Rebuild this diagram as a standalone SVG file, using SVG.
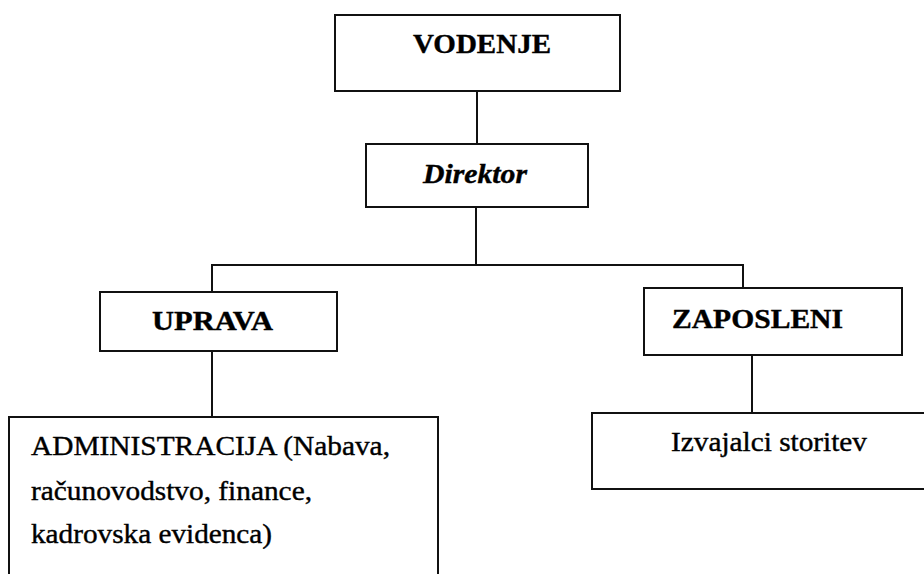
<svg xmlns="http://www.w3.org/2000/svg" width="924" height="574" viewBox="0 0 924 574">
<style>
.box{fill:#fff;stroke:#111;stroke-width:2}
.ln{fill:none;stroke:#111;stroke-width:2}
.t{font-family:"Liberation Serif","Times New Roman",serif;font-size:28px;fill:#000;stroke:#000;stroke-width:0.4}
.b{font-weight:bold}
.i{font-style:italic}
</style>
<rect width="924" height="574" fill="#fff"/>
<g id="connectors">
<line class="ln" x1="477" y1="91" x2="477" y2="144"/>
<line class="ln" x1="476" y1="207" x2="476" y2="265"/>
<polyline class="ln" points="212,292 212,265 743,265 743,288"/>
<line class="ln" x1="212" y1="351" x2="212" y2="417"/>
<line class="ln" x1="752" y1="355" x2="752" y2="413"/>
</g>
<g id="vodenje">
<rect class="box" x="335" y="15" width="285" height="76"/>
<text class="t b" x="413" y="53" textLength="138" lengthAdjust="spacingAndGlyphs">VODENJE</text>
</g>
<g id="direktor">
<rect class="box" x="366" y="144" width="222" height="63"/>
<text class="t b i" x="423" y="183" textLength="104" lengthAdjust="spacingAndGlyphs">Direktor</text>
</g>
<g id="uprava">
<rect class="box" x="100" y="292" width="237" height="59"/>
<text class="t b" x="152" y="330" textLength="121" lengthAdjust="spacingAndGlyphs">UPRAVA</text>
</g>
<g id="zaposleni">
<rect class="box" x="644" y="288" width="258" height="67"/>
<text class="t b" x="672" y="328" textLength="171" lengthAdjust="spacingAndGlyphs">ZAPOSLENI</text>
</g>
<g id="administracija">
<path class="ln" d="M9,580 V417 H438 V580"/>
<text class="t" x="31" y="455" textLength="359" lengthAdjust="spacingAndGlyphs">ADMINISTRACIJA (Nabava,</text>
<text class="t" x="31" y="500" textLength="281" lengthAdjust="spacingAndGlyphs">računovodstvo, finance,</text>
<text class="t" x="31" y="543" textLength="241" lengthAdjust="spacingAndGlyphs">kadrovska evidenca)</text>
</g>
<g id="izvajalci">
<path class="ln" d="M930,413 H592 V489 H930"/>
<text class="t" x="671" y="451" textLength="196" lengthAdjust="spacingAndGlyphs">Izvajalci storitev</text>
</g>
</svg>
